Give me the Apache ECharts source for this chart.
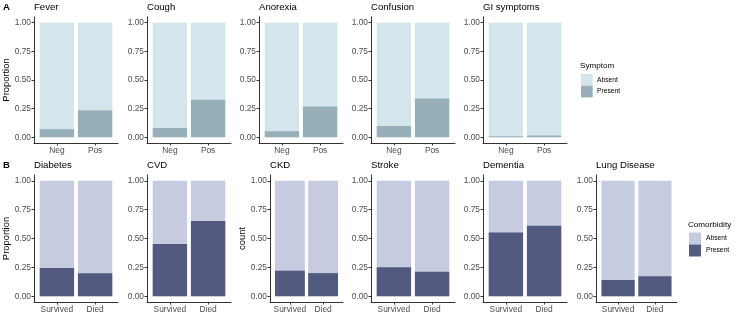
<!DOCTYPE html>
<html>
<head>
<meta charset="utf-8">
<script src="https://cdn.jsdelivr.net/npm/echarts@6/dist/echarts.min.js"></script>
<style>
html, body { margin: 0; padding: 0; background: #fff; }
#chart { width: 740px; height: 317px; }
</style>
</head>
<body>
<div id="chart"></div>
<script>
// proportion of patients with the feature present (the rest is "Absent")
var symptomGroups = ['Neg', 'Pos'];
var outcomeGroups = ['Survived', 'Died'];

var fever = [0.070, 0.237];
var cough = [0.082, 0.327];
var anorexia = [0.053, 0.269];
var confusion = [0.099, 0.339];
var giSymptoms = [0.009, 0.015];

var diabetes = [0.244, 0.200];
var cvd = [0.453, 0.651];
var ckd = [0.221, 0.200];
var stroke = [0.250, 0.212];
var dementia = [0.552, 0.610];
var lungDisease = [0.140, 0.174];

var yTicks = [0, 0.25, 0.5, 0.75, 1];
var legendLabels = ['Absent', 'Present'];

var FONT = '"Liberation Sans", Arial, sans-serif';
var symptomColors = ['#d4e5ec', '#97afb8'];
var comorbColors = ['#c6cbdf', '#525b7f'];

var rowA = [
    { name: 'Fever', values: fever, left: 34, width: 84, yName: 'Proportion' },
    { name: 'Cough', values: cough, left: 147, width: 84 },
    { name: 'Anorexia', values: anorexia, left: 259, width: 84 },
    { name: 'Confusion', values: confusion, left: 371, width: 84 },
    { name: 'GI symptoms', values: giSymptoms, left: 483, width: 84 }
];
var rowB = [
    { name: 'Diabetes', values: diabetes, left: 34, width: 84, yName: 'Proportion' },
    { name: 'CVD', values: cvd, left: 147, width: 84 },
    { name: 'CKD', values: ckd, left: 270, width: 73, yName: 'count' },
    { name: 'Stroke', values: stroke, left: 371, width: 84 },
    { name: 'Dementia', values: dementia, left: 483, width: 84 },
    { name: 'Lung Disease', values: lungDisease, left: 596, width: 81 }
];

var grids = [], xAxes = [], yAxes = [], series = [], titles = [];

function addPanel(p, top, height, groups, colors) {
    var i = grids.length;
    grids.push({ left: p.left, top: top, width: p.width, height: height, outerBoundsMode: 'none' });
    xAxes.push({
        type: 'value', gridIndex: i, min: 0.4, max: 2.6,
        axisLine: { onZero: false, lineStyle: { color: '#333', width: 1 } },
        axisTick: { length: 2.5, customValues: [1, 2], lineStyle: { color: '#333' } },
        axisLabel: {
            customValues: [1, 2], margin: 4, fontSize: 8.4, color: '#4d4d4d', fontFamily: FONT,
            formatter: function (v) { return groups[Math.round(v) - 1]; }
        },
        splitLine: { show: false }
    });
    yAxes.push({
        type: 'value', gridIndex: i, min: -0.05, max: 1.05,
        name: p.yName || '', nameLocation: 'middle', nameGap: 18.5,
        nameTextStyle: { fontSize: 9.4, color: '#000', fontFamily: FONT },
        axisLine: { show: true, onZero: false, lineStyle: { color: '#333', width: 1 } },
        axisTick: { show: true, length: 2.5, customValues: yTicks, lineStyle: { color: '#333' } },
        axisLabel: {
            customValues: yTicks, margin: 3, fontSize: 8.4, color: '#4d4d4d', fontFamily: FONT,
            formatter: function (v) { return v.toFixed(2); }
        },
        splitLine: { show: false }
    });
    var bw = p.width / 2.2 * 0.9;
    // full bar = Absent, present share drawn over it from 0
    series.push({
        type: 'bar', xAxisIndex: i, yAxisIndex: i, barWidth: bw, barGap: '-100%',
        data: p.values.map(function (v, k) { return [k + 1, 1]; }),
        itemStyle: { color: colors[0] }, silent: true
    });
    series.push({
        type: 'bar', xAxisIndex: i, yAxisIndex: i, barWidth: bw, barGap: '-100%',
        data: p.values.map(function (v, k) { return [k + 1, v]; }),
        itemStyle: { color: colors[1] }, silent: true
    });
    titles.push({
        text: p.name, left: p.left, top: top - 14.5, padding: 0,
        textStyle: { fontSize: 9.6, fontWeight: 'normal', color: '#000', fontFamily: FONT }
    });
}

rowA.forEach(function (p) { addPanel(p, 17, 126, symptomGroups, symptomColors); });
rowB.forEach(function (p) { addPanel(p, 175, 127, outcomeGroups, comorbColors); });

function legendGraphic(title, colors, x, y, key, labelX) {
    var g = [{
        type: 'text', left: x - 1, top: y - 4,
        style: { text: title, fontSize: 8.1, fill: '#000', fontFamily: FONT }
    }];
    for (var k = 0; k < 2; k++) {
        g.push({
            type: 'rect', shape: { x: x, y: y + 8 + k * key, width: key, height: key },
            style: { fill: colors[k] }
        });
        g.push({
            type: 'text', x: labelX, y: y + 8 + k * key + key / 2,
            style: { text: legendLabels[k], fontSize: 6.7, fill: '#000', fontFamily: FONT, verticalAlign: 'middle' }
        });
    }
    return g;
}

var graphics = [
    { type: 'text', left: 3, top: 2.5, style: { text: 'A', fontSize: 9.5, fontWeight: 'bold', fill: '#000', fontFamily: FONT } },
    { type: 'text', left: 3, top: 160.5, style: { text: 'B', fontSize: 9.5, fontWeight: 'bold', fill: '#000', fontFamily: FONT } }
].concat(legendGraphic('Symptom', symptomColors, 581, 66, 11.7, 597))
 .concat(legendGraphic('Comorbidity', comorbColors, 689, 224.5, 12, 706));

var myChart = echarts.init(document.getElementById('chart'));
var option = {
    animation: false,
    backgroundColor: '#fff',
    title: titles,
    grid: grids,
    xAxis: xAxes,
    yAxis: yAxes,
    series: series,
    graphic: graphics
};
myChart.setOption(option, true);
</script>
</body>
</html>
